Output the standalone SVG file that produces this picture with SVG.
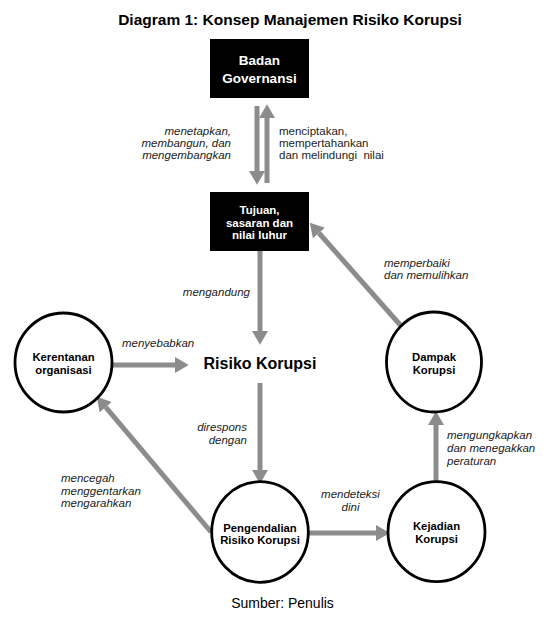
<svg xmlns="http://www.w3.org/2000/svg" width="559" height="626" viewBox="0 0 559 626">
<style>
text{font-family:"Liberation Sans",Arial,sans-serif;fill:#000}
.title{font-size:15.5px;font-weight:bold}
.box{fill:#000}
.boxt{fill:#fff;font-weight:bold;font-size:13.5px;text-anchor:middle}
.boxs{fill:#fff;font-weight:bold;font-size:11.5px;text-anchor:middle}
.node{fill:#fff;stroke:#000;stroke-width:2.8}
.nt{font-weight:bold;font-size:11.3px;text-anchor:middle}
.lbl{font-size:11.5px;font-style:italic;fill:#222}
.lblr{font-size:11.5px;fill:#222}
.conn{stroke:#8c8c8c;stroke-width:5;fill:none;marker-end:url(#ah)}
</style>
<defs>
<marker id="ah" markerUnits="userSpaceOnUse" markerWidth="14" markerHeight="16" refX="0" refY="7" orient="auto" viewBox="0 0 12 14">
<path d="M0,0 L12,7 L0,14 Z" fill="#8c8c8c"/>
</marker>
</defs>
<rect width="559" height="626" fill="#fff"/>
<text class="title" x="290" y="25" text-anchor="middle">Diagram 1: Konsep Manajemen Risiko Korupsi</text>

<g id="connectors">
<line class="conn" x1="257" y1="106" x2="257" y2="171"/>
<line class="conn" x1="267" y1="183" x2="267" y2="118"/>
<line class="conn" x1="260" y1="251" x2="260" y2="331"/>
<line class="conn" x1="112" y1="365" x2="175" y2="365"/>
<line class="conn" x1="260" y1="383" x2="260" y2="470"/>
<line class="conn" x1="308" y1="533" x2="376" y2="533"/>
<line class="conn" x1="436" y1="482" x2="436" y2="425"/>
<line class="conn" x1="402" y1="327" x2="318.9" y2="233"/>
<line class="conn" x1="211" y1="532" x2="105.7" y2="407.2"/>
</g>

<g id="labels">
<text class="lbl" text-anchor="end"><tspan x="231" y="135">menetapkan,</tspan><tspan x="231" y="147">membangun, dan</tspan><tspan x="231" y="159">mengembangkan</tspan></text>
<text class="lblr" xml:space="preserve"><tspan x="279" y="135">menciptakan,</tspan><tspan x="279" y="147">mempertahankan</tspan><tspan x="279" y="159">dan melindungi  nilai</tspan></text>
<text class="lbl" x="250" y="296" text-anchor="end">mengandung</text>
<text class="lbl"><tspan x="384" y="266.5">memperbaiki</tspan><tspan x="384" y="278.5">dan memulihkan</tspan></text>
<text class="lbl" x="122" y="347">menyebabkan</text>
<text class="lbl" text-anchor="end"><tspan x="247" y="431">direspons</tspan><tspan x="247" y="444">dengan</tspan></text>
<text class="lbl"><tspan x="447" y="439">mengungkapkan</tspan><tspan x="447" y="452">dan menegakkan</tspan><tspan x="447" y="465">peraturan</tspan></text>
<text class="lbl"><tspan x="61" y="482">mencegah</tspan><tspan x="61" y="494.5">menggentarkan</tspan><tspan x="61" y="507">mengarahkan</tspan></text>
<text class="lbl" text-anchor="middle"><tspan x="350.5" y="498">mendeteksi</tspan><tspan x="350.5" y="511">dini</tspan></text>
</g>

<g id="badan-governansi">
<rect class="box" x="210" y="39" width="99" height="59"/>
<text class="boxt"><tspan x="259.5" y="65">Badan</tspan><tspan x="259.5" y="83">Governansi</tspan></text>
</g>
<g id="tujuan">
<rect class="box" x="210" y="192" width="99" height="59"/>
<text class="boxs"><tspan x="259.5" y="214">Tujuan,</tspan><tspan x="259.5" y="226.5">sasaran dan</tspan><tspan x="259.5" y="238.5">nilai luhur</tspan></text>
</g>
<g id="risiko-korupsi">
<text x="260" y="369" text-anchor="middle" font-weight="bold" font-size="16">Risiko Korupsi</text>
</g>
<g id="kerentanan">
<ellipse class="node" cx="63.5" cy="362.5" rx="48.5" ry="49.5"/>
<text class="nt"><tspan x="63.5" y="361">Kerentanan</tspan><tspan x="63.5" y="374">organisasi</tspan></text>
</g>
<g id="dampak">
<ellipse class="node" cx="434" cy="362" rx="47.5" ry="50"/>
<text class="nt"><tspan x="434" y="361">Dampak</tspan><tspan x="434" y="373.5">Korupsi</tspan></text>
</g>
<g id="pengendalian">
<ellipse class="node" cx="260" cy="532" rx="48.3" ry="50.3"/>
<text class="nt"><tspan x="260" y="531.5">Pengendalian</tspan><tspan x="260" y="544">Risiko Korupsi</tspan></text>
</g>
<g id="kejadian">
<ellipse class="node" cx="436.5" cy="531.7" rx="48.5" ry="50"/>
<text class="nt"><tspan x="436.5" y="530">Kejadian</tspan><tspan x="436.5" y="542.5">Korupsi</tspan></text>
</g>
<text x="282.5" y="608" text-anchor="middle" font-size="14" fill="#222">Sumber: Penulis</text>
</svg>
